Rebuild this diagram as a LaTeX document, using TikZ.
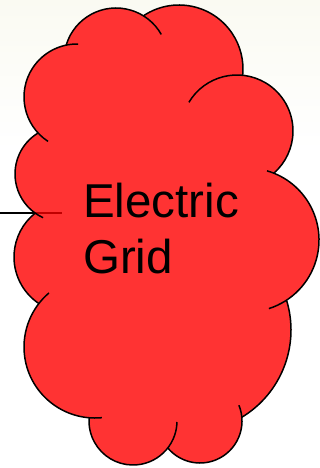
\documentclass[tikz,border=0pt]{standalone}
\usepackage{fontspec}
\setmainfont{Liberation Sans}
\definecolor{cloudred}{RGB}{255,51,51}
\definecolor{linered}{RGB}{192,0,0}
\definecolor{bgcream}{RGB}{250,250,242}
% arc of a lobe (centre #1,#2, radius #3) from the direction of point (#4,#5)
% clockwise to the direction of point (#6,#7); pixel coordinates, y downwards
\newcommand\lobeangles[7]{%
  \pgfmathsetmacro\lobeS{atan2(#2-#5,#4-#1)}%
  \pgfmathsetmacro\lobeT{atan2(#2-#7,#6-#1)}%
  \pgfmathsetmacro\lobeE{\lobeS-mod(\lobeS-\lobeT+720,360)}%
}
\newcommand\lobeto[7]{\pgfextra{\lobeangles{#1}{#2}{#3}{#4}{#5}{#6}{#7}}%
  -- ([shift={(\lobeS:#3)}]#1,-#2) arc[start angle=\lobeS,end angle=\lobeE,radius=#3]}
\newcommand\lobemv[7]{\pgfextra{\lobeangles{#1}{#2}{#3}{#4}{#5}{#6}{#7}}%
  ([shift={(\lobeS:#3)}]#1,-#2) arc[start angle=\lobeS,end angle=\lobeE,radius=#3]}
\tikzset{
  outline/.style={draw=black,line width=1.5pt},
  gridtext/.style={anchor=base west,inner sep=0pt,font=\fontsize{47.5}{56}\selectfont}
}
\begin{document}
\begin{tikzpicture}[x=1pt,y=1pt]
\useasboundingbox (0,-468) rectangle (320,0);
\fill[white] (0,-468) rectangle (320,0);
\shade[top color=bgcream,bottom color=white] (0,-150) rectangle (320,0);
% cloud fill
\fill[cloudred] (66,-45)
  \lobeto{116}{60}{52}{66}{45}{143.5}{15.7}
  \lobeto{179}{69}{64}{143.5}{15.7}{242.7}{75.3}
  \lobeto{237}{131}{56}{242.7}{75.3}{273.7}{173.2}
  \lobeto{247}{240}{72}{273.7}{173.2}{286.5}{300.1}
  \lobeto{189}{330}{102}{286.5}{300.1}{241.8}{417.3}
  \lobeto{200}{421}{42}{241.8}{417.3}{167.8}{448}
  \lobeto{133}{421}{44}{167.8}{448}{89.1}{417.8}
  \lobeto{95}{347}{71}{89.1}{417.8}{38.8}{303.6}
  \lobeto{70}{257}{56}{38.8}{303.6}{35.2}{213.2}
  \lobeto{63}{174}{48}{35.2}{213.2}{38}{133}
  \lobeto{77}{97}{53}{38}{133}{66}{45}
  -- cycle;
% connector
\coordinate (lineL) at (0,-213.2);
\coordinate (edge) at (35.2,-213.2);
\coordinate (lineR) at (62,-213.2);
\draw[linered,line width=1.6pt] (edge) -- (lineR);
% cloud outline
\draw[outline] \lobemv{116}{60}{52}{66}{45}{162}{34};
\draw[outline] \lobemv{179}{69}{64}{143.5}{15.7}{242.7}{75.3};
\draw[outline] \lobemv{237}{131}{56}{190}{103}{273.7}{173.2};
\draw[outline] \lobemv{247}{240}{72}{267}{171}{270}{312};
\draw[outline] \lobemv{189}{330}{102}{286.5}{300.1}{241.8}{417.3};
\draw[outline] \lobemv{200}{421}{42}{242}{404}{167.8}{448};
\draw[outline] \lobemv{133}{421}{44}{177}{422}{89.1}{417.8};
\draw[outline] \lobemv{95}{347}{71}{102}{419}{49}{293};
\draw[outline] \lobemv{70}{257}{56}{38.8}{303.6}{35.2}{213.2};
\draw[outline] \lobemv{63}{174}{48}{43}{218}{38}{133};
\draw[outline] \lobemv{77}{97}{53}{47}{143}{78}{46};
\draw[black,line width=1.5pt] (lineL) -- (edge);
% text
\node[gridtext] (t1) at (83,-217) {Electric};
\node[gridtext] (t2) at (83,-273) {Grid};
\end{tikzpicture}
\end{document}
